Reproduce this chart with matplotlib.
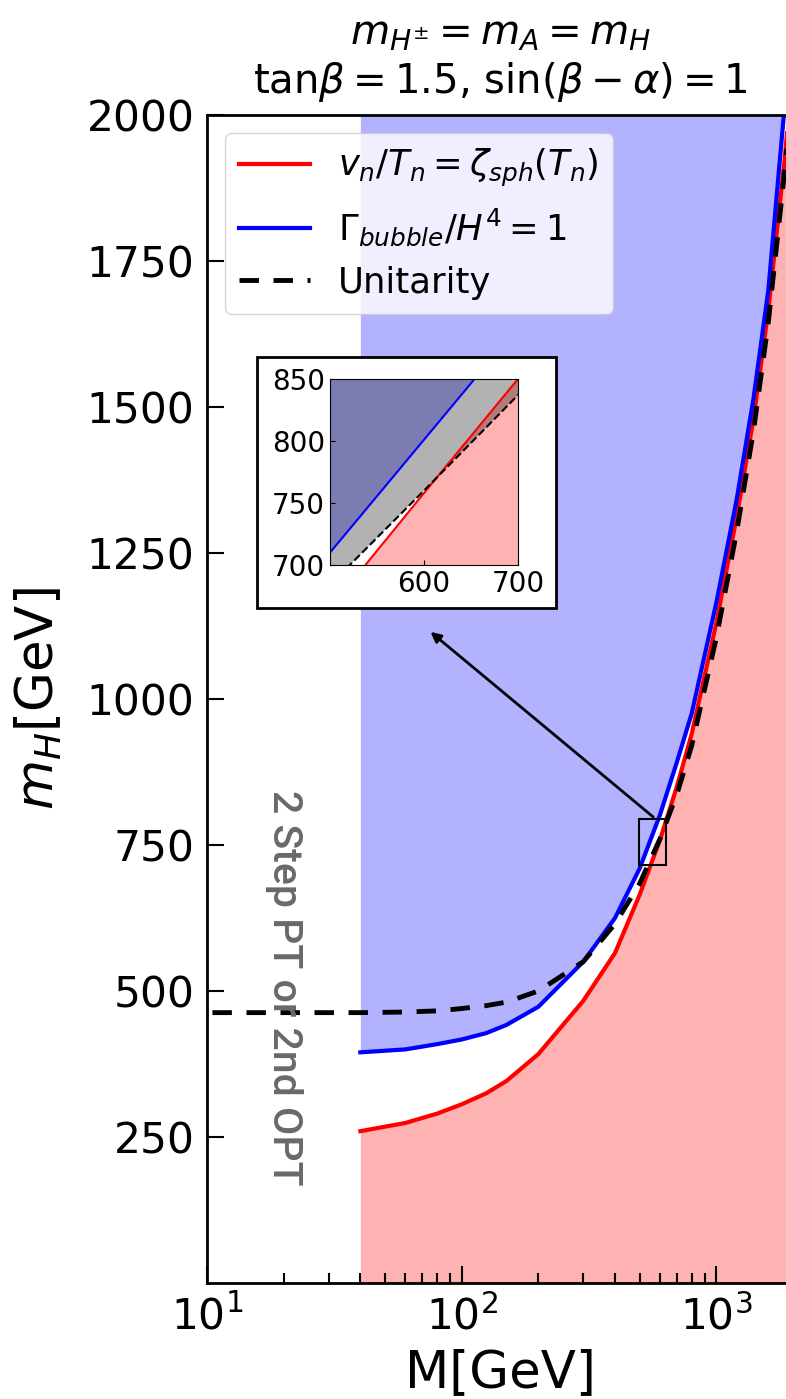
import numpy as np
import matplotlib
matplotlib.use('Agg')
import matplotlib.pyplot as plt
from matplotlib.patches import Rectangle

# mass grid [GeV]
M = [40, 60, 80, 100, 125, 150, 200, 300, 400, 500, 600, 700, 800, 1000, 1200, 1400, 1600, 1850, 2000]
# v_n/T_n = zeta_sph(T_n)
m_sph = [260, 274, 290, 306, 325, 346, 392, 483, 565, 665, 758, 850, 940, 1130, 1310, 1480, 1665, 1920, 2080]
# Gamma_bubble/H^4 = 1
m_nuc = [395, 400, 409, 417, 428, 442, 473, 550, 625, 710, 801, 892, 975, 1165, 1340, 1515, 1700, 2010, 2200]
# unitarity bound
M_uni = [10.5, 40, 60, 80, 100, 125, 150, 200, 300, 400, 500, 600, 700, 800, 1000, 1200, 1400, 1600, 1850, 2000]
m_uni = [463, 463, 464, 466, 470, 475, 481, 500, 550, 615, 684, 760, 837, 920, 1105, 1285, 1460, 1645, 1900, 2040]

yticks = [250, 500, 750, 1000, 1250, 1500, 1750, 2000]

fig = plt.figure(figsize=(7.86, 13.99), dpi=100)
ax = fig.add_axes([0.2634, 0.0829, 0.7455, 0.8349])

ax.fill_between(M, m_nuc, 2000, color='blue', alpha=0.3, lw=0)
ax.fill_between(M, 0, m_sph, color='red', alpha=0.3, lw=0)
ax.plot(M, m_sph, color='red', lw=3, label=r'$v_n/T_n = \zeta_{sph}(T_n)$')
ax.plot(M, m_nuc, color='blue', lw=3, label=r'$\Gamma_{bubble}/H^4 = 1$')
ax.plot(M_uni, m_uni, color='black', lw=3.5, ls=(0, (4, 3)), label='Unitarity')

ax.set_xscale('log')
ax.set_xlim(10, 2000)
ax.set_ylim(0, 2000)
ax.set_yticks(yticks)
ax.tick_params(which='both', direction='in', labelsize=30.5, width=1.5)
ax.tick_params(which='major', length=12, pad=9)
ax.tick_params(which='minor', length=7)
for s in ax.spines.values():
    s.set_linewidth(2)
ax.set_xlabel('M[GeV]', fontsize=37, labelpad=7)
ax.set_ylabel(r'$m_H$[GeV]', fontsize=37, labelpad=16)
ax.set_title('$m_{H^{\\pm}} = m_A = m_H$\ntan$\\beta = 1.5$, sin$(\\beta - \\alpha) = 1$',
             fontsize=29, pad=16)

ax.legend(loc='upper left', fontsize=25.5, handlelength=2.0, borderaxespad=0.5)

ax.text(20, 505, '2 Step PT or 2nd OPT', rotation=-90, color='dimgray', fontsize=29.5,
        fontweight='medium', family=['Roboto', 'DejaVu Sans'],
        ha='center', va='center')

# zoom box and arrow
ax.add_patch(Rectangle((495, 715), 140, 80, fill=False, ec='black', lw=1.5, zorder=5))
ax.annotate('', xy=(74, 1118), xytext=(576, 795),
            arrowprops=dict(arrowstyle='-|>', color='black', lw=2, mutation_scale=15), zorder=5)

# inset
fig.patches.append(Rectangle((0.327, 0.5654), 0.3804, 0.1794, transform=fig.transFigure,
                             fc='white', ec='black', lw=2, zorder=3))
axin = fig.add_axes([0.4198, 0.5961, 0.2392, 0.1330])
axin.set_zorder(4)
axin.fill_between(M, m_nuc, 2000, color='blue', alpha=0.3, lw=0)
axin.fill_between(M, 0, m_sph, color='red', alpha=0.3, lw=0)
axin.fill_between(M_uni, m_uni, 2000, color='black', alpha=0.3, lw=0)
axin.plot(M, m_sph, color='red', lw=1.5)
axin.plot(M, m_nuc, color='blue', lw=1.5)
axin.plot(M_uni, m_uni, color='black', lw=1.5, ls='--')
axin.set_xlim(500, 700)
axin.set_ylim(700, 850)
axin.set_xticks([600, 700])
axin.set_yticks([700, 750, 800, 850])
axin.tick_params(direction='in', labelsize=20)

fig.savefig('out.png', dpi=100)
